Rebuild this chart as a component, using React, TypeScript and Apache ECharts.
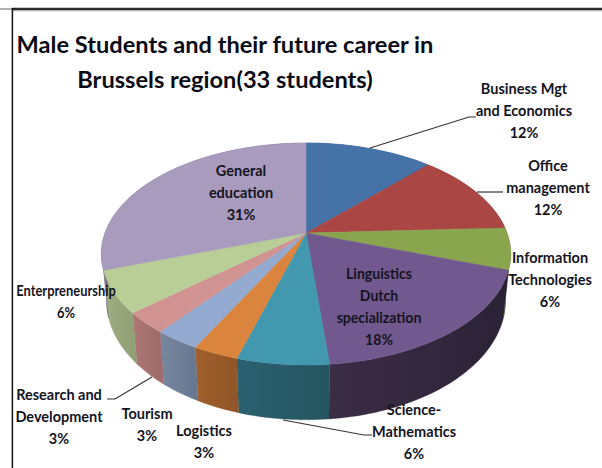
import React, { useEffect, useRef } from "react";
import * as echarts from "echarts";

const titleText = "Male Students and their future career in\nBrussels region(33 students)";
const categories = [
  "Business Mgt\nand Economics",
  "Office\nmanagement",
  "Information\nTechnologies",
  "Linguistics\nDutch\nspecialization",
  "Science-\nMathematics",
  "Logistics",
  "Tourism",
  "Research and\nDevelopment",
  "Enterpreneurship",
  "General\neducation",
];
const students = [4, 4, 2, 6, 2, 1, 1, 1, 2, 10];
const percentLabels = ["12%", "12%", "6%", "18%", "6%", "3%", "3%", "3%", "6%", "31%"];
const topColors = ["#4572a7", "#aa4643", "#89a54e", "#71588f", "#4198af", "#db843d", "#93a9cf", "#d19392", "#b9cd96", "#a99bbd"];
const sideLight = ["#35567e", "#803532", "#677c3b", "#3c2d46", "#2b6171", "#a1602c", "#76879f", "#ad7876", "#a0b082", "#7f7490"];
const sideDark = ["#2a4565", "#662a28", "#525f2f", "#2b2236", "#245560", "#8f5527", "#66768f", "#9c6a68", "#8f9d73", "#665d74"];
const labelAnchors = [[524, 77], [548, 154], [550, 246], [379, 262], [414, 398], [204, 419], [147, 402], [59, 383], [66, 279], [241, 159]];
const labelWidthScale = [1, 1, 1, 0.97, 1, 1, 1, 1, 0.89, 1];
const leaderLines = [
  [[370, 148], [469, 117], [476, 117]],
  [[477, 192], [503, 192]],
  [[152, 377], [115, 399], [107, 399]],
  [[283, 420], [364, 435], [372, 435]],
];
const FONT = "Lato, 'Open Sans', sans-serif";

// perspective view of the pie disc
const CX = 306;
const TOP_Y = 233;
const BOTTOM_Y = 278;
const RX = 201;
const RY_TOP = 107;
const RY_BOTTOM = 115;
const SHRINK = 0.975;
const K = 0.189;

const total = students.reduce((a, b) => a + b, 0);
const startFraction = (i: number) => students.slice(0, i).reduce((a, b) => a + b, 0) / total;

function project(angle: number, bottom: boolean): number[] {
  const u = Math.sin(angle);
  const v = Math.cos(angle);
  const d = 1 + K * v;
  return bottom
    ? [CX + (SHRINK * RX * u) / d, BOTTOM_Y - (RY_BOTTOM * v) / d]
    : [CX + (RX * u) / d, TOP_Y - (RY_TOP * v) / d];
}

function rim(i: number, bottom: boolean): number[][] {
  const a0 = startFraction(i) * 2 * Math.PI;
  const a1 = startFraction(i + 1) * 2 * Math.PI;
  const n = Math.max(8, Math.ceil((a1 - a0) * 40));
  const pts: number[][] = [];
  for (let j = 0; j <= n; j++) pts.push(project(a0 + ((a1 - a0) * j) / n, bottom));
  return pts;
}

export default function App() {
  const ref = useRef<HTMLDivElement>(null);
  useEffect(() => {
    document.body.style.margin = "0";
    const chart = echarts.init(ref.current!, undefined, { renderer: "svg" });
    const data = students.map((v) => [v]);
    chart.setOption({
      animation: false,
      backgroundColor: "#fff",
      title: {
        text: titleText,
        left: 220,
        top: 21,
        textAlign: "center",
        textStyle: { fontFamily: FONT, fontSize: 23.6, fontWeight: "bold", color: "#0a0a14", lineHeight: 35 },
      },
      graphic: [
        { type: "line", shape: { x1: 0, y1: 9, x2: 12, y2: 9 }, style: { stroke: "#666", lineWidth: 1 } },
        { type: "line", shape: { x1: 12, y1: 9, x2: 602, y2: 9 }, style: { stroke: "#2a2a2a", lineWidth: 2.4 } },
        { type: "line", shape: { x1: 12, y1: 10.8, x2: 602, y2: 10.8 }, style: { stroke: "#aaa", lineWidth: 1 } },
        { type: "line", shape: { x1: 12.4, y1: 8, x2: 12.4, y2: 468 }, style: { stroke: "#111", lineWidth: 1.5 } },
      ],
      series: [
        {
          type: "custom",
          coordinateSystem: "none",
          silent: true,
          z: 1,
          data,
          renderItem: (params: any) => {
            const i = params.dataIndex;
            const t = rim(i, false);
            const b = rim(i, true);
            const fill = new echarts.graphic.LinearGradient(0, 0, 1, 0, [
              { offset: 0, color: sideLight[i] },
              { offset: 1, color: sideDark[i] },
            ]);
            return {
              type: "polygon",
              shape: { points: [...t, ...b.reverse()] },
              style: { fill, stroke: sideDark[i], lineWidth: 0.3 },
            };
          },
        },
        {
          type: "custom",
          coordinateSystem: "none",
          silent: true,
          z: 2,
          data,
          renderItem: (params: any) => {
            const i = params.dataIndex;
            return {
              type: "polygon",
              shape: { points: [[CX, TOP_Y], ...rim(i, false)] },
              style: { fill: topColors[i], stroke: topColors[i], lineWidth: 0.5 },
            };
          },
        },
        {
          type: "custom",
          coordinateSystem: "none",
          silent: true,
          z: 3,
          data: leaderLines.map((_, i) => [i]),
          renderItem: (params: any) => ({
            type: "polyline",
            shape: { points: leaderLines[params.dataIndex] },
            style: { stroke: "#333", lineWidth: 1.2, fill: "none" },
          }),
        },
        {
          type: "custom",
          coordinateSystem: "none",
          silent: true,
          z: 4,
          data,
          renderItem: (params: any) => {
            const i = params.dataIndex;
            return {
              type: "text",
              x: labelAnchors[i][0],
              y: labelAnchors[i][1],
              scaleX: labelWidthScale[i],
              style: {
                text: categories[i] + "\n" + percentLabels[i],
                fontFamily: FONT,
                fontSize: 14.5,
                fontWeight: "bold",
                lineHeight: 22,
                fill: "#14141e",
                align: "center",
                verticalAlign: "top",
              },
            };
          },
        },
      ],
    });
    return () => chart.dispose();
  }, []);
  return <div ref={ref} style={{ position: "absolute", left: 0, top: 0, width: 602, height: 468 }} />;
}
